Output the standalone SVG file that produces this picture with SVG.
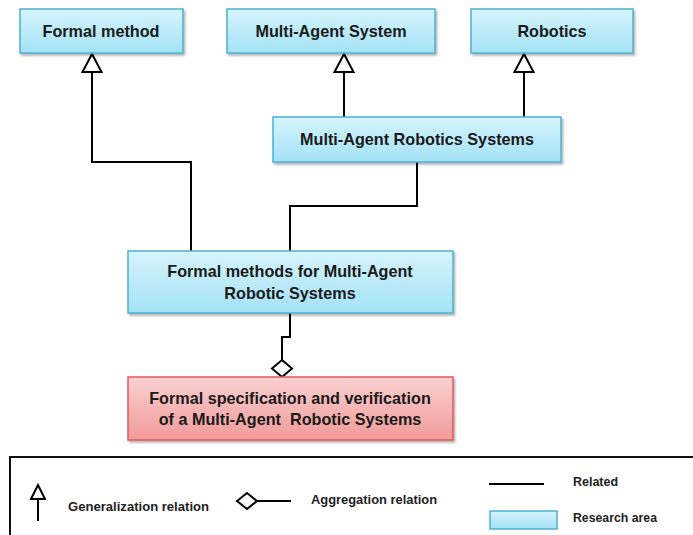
<svg xmlns="http://www.w3.org/2000/svg" width="693" height="535" viewBox="0 0 693 535">
<style>
.box{fill:url(#blue);stroke:#4fb0d0;stroke-width:1.5;filter:url(#sh)}
.rbox{fill:url(#red);stroke:#de5a5a;stroke-width:1.5;filter:url(#sh)}
.t{font-family:"Liberation Sans",Arial,sans-serif;font-weight:bold;font-size:16.2px;fill:#1a1a1a;text-anchor:middle}
.lt{font-family:"Liberation Sans",Arial,sans-serif;font-weight:bold;font-size:12px;fill:#222}
.c{fill:none;stroke:#000;stroke-width:2}
.tri{fill:#fff;stroke:#000;stroke-width:2;stroke-linejoin:miter}
</style>
<defs>
<linearGradient id="blue" x1="0" y1="0" x2="0" y2="1">
<stop offset="0" stop-color="#d6f4fc"/>
<stop offset="1" stop-color="#a3e2f6"/>
</linearGradient>
<linearGradient id="red" x1="0" y1="0" x2="0" y2="1">
<stop offset="0" stop-color="#fad0d0"/>
<stop offset="1" stop-color="#f29a9a"/>
</linearGradient>
<filter id="sh" x="-5%" y="-10%" width="115%" height="130%">
<feDropShadow dx="1.5" dy="2" stdDeviation="1.2" flood-color="#000" flood-opacity="0.3"/>
</filter>
</defs>
<rect width="693" height="535" fill="#fff"/>

<g id="connectors">
<polyline class="c" points="92,72 92,162 191,162 191,251"/>
<polygon class="tri" points="92,54 82.5,72 101.5,72"/>
<line class="c" x1="344" y1="72" x2="344" y2="117"/>
<polygon class="tri" points="344,54 334.5,72 353.5,72"/>
<line class="c" x1="524" y1="72" x2="524" y2="117"/>
<polygon class="tri" points="524,54 514.5,72 533.5,72"/>
<polyline class="c" points="417,162 417,206 290,206 290,251"/>
<polyline class="c" points="290,313 290,337 282,337 282,360"/>
<polygon class="tri" points="282,360 292,368.5 282,377 272,368.5"/>
</g>

<g id="n-formal-method">
<rect class="box" x="20" y="9" width="163" height="44"/>
<text class="t" x="101" y="37">Formal method</text>
</g>
<g id="n-mas">
<rect class="box" x="227" y="9" width="208" height="44"/>
<text class="t" x="331" y="37">Multi-Agent System</text>
</g>
<g id="n-robotics">
<rect class="box" x="471" y="9" width="162" height="44"/>
<text class="t" x="552" y="37">Robotics</text>
</g>
<g id="n-mars">
<rect class="box" x="273" y="117" width="288" height="45"/>
<text class="t" x="417" y="145">Multi-Agent Robotics Systems</text>
</g>
<g id="n-fm4mars">
<rect class="box" x="128" y="251" width="325" height="62"/>
<text class="t" x="290" y="277">Formal methods for Multi-Agent</text>
<text class="t" x="290" y="299">Robotic Systems</text>
</g>
<g id="n-spec">
<rect class="rbox" x="128" y="377" width="325" height="63"/>
<text class="t" x="290" y="404">Formal specification and verification</text>
<text class="t" x="290" y="425" style="white-space:pre">of a Multi-Agent  Robotic Systems</text>
</g>

<g id="legend">
<rect x="10" y="457" width="700" height="90" fill="#fff" stroke="#111" stroke-width="2"/>
<line x1="38" y1="499" x2="38" y2="521" stroke="#000" stroke-width="2"/>
<polygon points="38,485 31,499 45,499" fill="#fff" stroke="#000" stroke-width="2"/>
<text class="lt" x="68" y="511" textLength="141" lengthAdjust="spacingAndGlyphs">Generalization relation</text>
<polygon points="237,501 247,493 257,501 247,509" fill="#fff" stroke="#000" stroke-width="2"/>
<line x1="257" y1="501" x2="291" y2="501" stroke="#000" stroke-width="2"/>
<text class="lt" x="311" y="504" textLength="126" lengthAdjust="spacingAndGlyphs">Aggregation relation</text>
<line x1="489" y1="484" x2="544" y2="484" stroke="#000" stroke-width="2"/>
<text class="lt" x="573" y="486" textLength="45" lengthAdjust="spacingAndGlyphs">Related</text>
<rect x="490" y="511" width="67" height="18" fill="url(#blue)" stroke="#4fb0d0" stroke-width="1.5"/>
<text class="lt" x="573" y="522" textLength="84" lengthAdjust="spacingAndGlyphs">Research area</text>
</g>
</svg>
